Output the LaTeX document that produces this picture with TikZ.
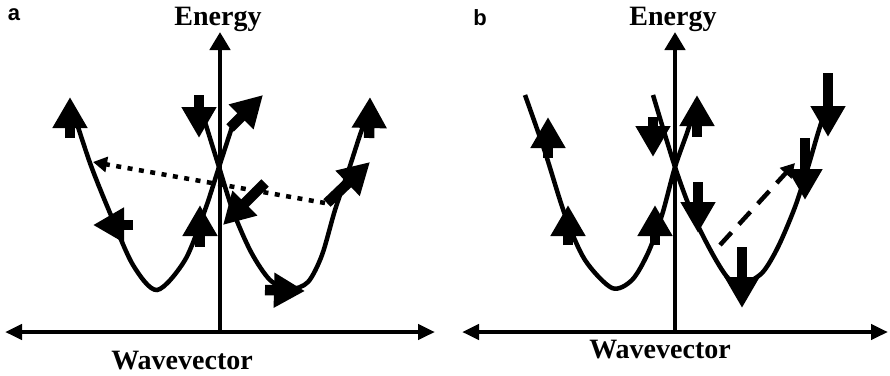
\documentclass[tikz,border=0pt]{standalone}
\usepackage{fontspec}
\setmainfont{Liberation Serif}
\newfontfamily\labelfont{Liberation Sans}
\usetikzlibrary{arrows.meta}

\begin{document}
\begin{tikzpicture}[x=1pt, y=-1pt,
    axis/.style={line width=4.5pt, {Triangle[length=17pt,width=15pt]}-{Triangle[length=17pt,width=15pt]}},
    yaxis/.style={line width=4.5pt, -{Triangle[length=18pt,width=20pt]}},
    band/.style={line width=4.5pt},
    spin/.style={line width=10.5pt, -{Triangle[length=31pt,width=33pt]}},
    hop/.style={line width=4.5pt, -{Triangle[length=14pt,width=15pt]}},
    axislabel/.style={font=\fontsize{28}{30}\selectfont\bfseries, anchor=base},
    panel/.style={font=\labelfont\fontsize{22}{24}\selectfont\bfseries, anchor=base}]

    \useasboundingbox (0,0) rectangle (890,375);

    % 图 a
    \node[panel] (labela) at (14,20) {a};
    \node[axislabel] (energya) at (218,25) {Energy};
    \node[axislabel] (wavea) at (182,369) {Wavevector};
    \coordinate (xla) at (5,332);
    \coordinate (xra) at (435,332);
    \coordinate (oa) at (220,332);
    \coordinate (ya) at (220,32);
    \draw[axis] (xla) -- (xra);
    \draw[yaxis] (oa) -- (ya);

    % 能带
    \draw[band] plot[smooth] coordinates {(72,108) (90,163) (110,213) (133,265) (157,290)
        (185,260) (205,210) (219,167) (232,127)};
    \draw[band] plot[smooth] coordinates {(205,122) (219,167) (233,211) (251,252) (270,280)
        (290,289) (308,282) (322,255) (335,210) (348,172) (359,138) (368,112)};

    % 散射
    \draw[hop, dash pattern=on 5pt off 6.5pt] (325,203) -- (93,162);

    % 自旋
    \draw[spin] (70,138) -- (70,97);
    \draw[spin] (133,225) -- (93,225);
    \draw[spin] (200,247) -- (200,205);
    \draw[spin] (199,95) -- (199,138);
    \draw[spin] (230,128) -- (263,95);
    \draw[spin] (265,183) -- (223,225);
    \draw[spin] (265,290) -- (305,291);
    \draw[spin] (327,203) -- (370,162);
    \draw[spin] (369,138) -- (370,97);

    % 图 b
    \node[panel] (labelb) at (480,25) {b};
    \node[axislabel] (energyb) at (673,25) {Energy};
    \node[axislabel] (waveb) at (660,358) {Wavevector};
    \coordinate (xlb) at (462,332);
    \coordinate (xrb) at (888,332);
    \coordinate (ob) at (675,332);
    \coordinate (yb) at (675,32);
    \draw[axis] (xlb) -- (xrb);
    \draw[yaxis] (ob) -- (yb);

    % 能带
    \draw[band] plot[smooth] coordinates {(525,95) (545,152) (565,215) (585,260) (612,288)
        (632,280) (648,253) (662,215) (675,167) (688,130) (697,100)};
    \draw[band] plot[smooth] coordinates {(653,95) (675,167) (692,213) (712,253) (728,278)
        (742,284) (762,273) (778,247) (795,207) (808,167) (818,133) (826,108)};

    % 散射
    \draw[hop, dash pattern=on 17pt off 11pt] (720,245) -- (795,163);

    % 自旋
    \draw[spin] (548,158) -- (548,117);
    \draw[spin] (568,245) -- (568,205);
    \draw[spin] (655,245) -- (655,205);
    \draw[spin] (697,137) -- (697,95);
    \draw[spin] (653,117) -- (653,157);
    \draw[spin] (698,182) -- (698,233);
    \draw[spin] (742,247) -- (742,308);
    \draw[spin] (828,73) -- (828,137);
    \draw[spin] (805,138) -- (805,200);

\end{tikzpicture}
\end{document}
